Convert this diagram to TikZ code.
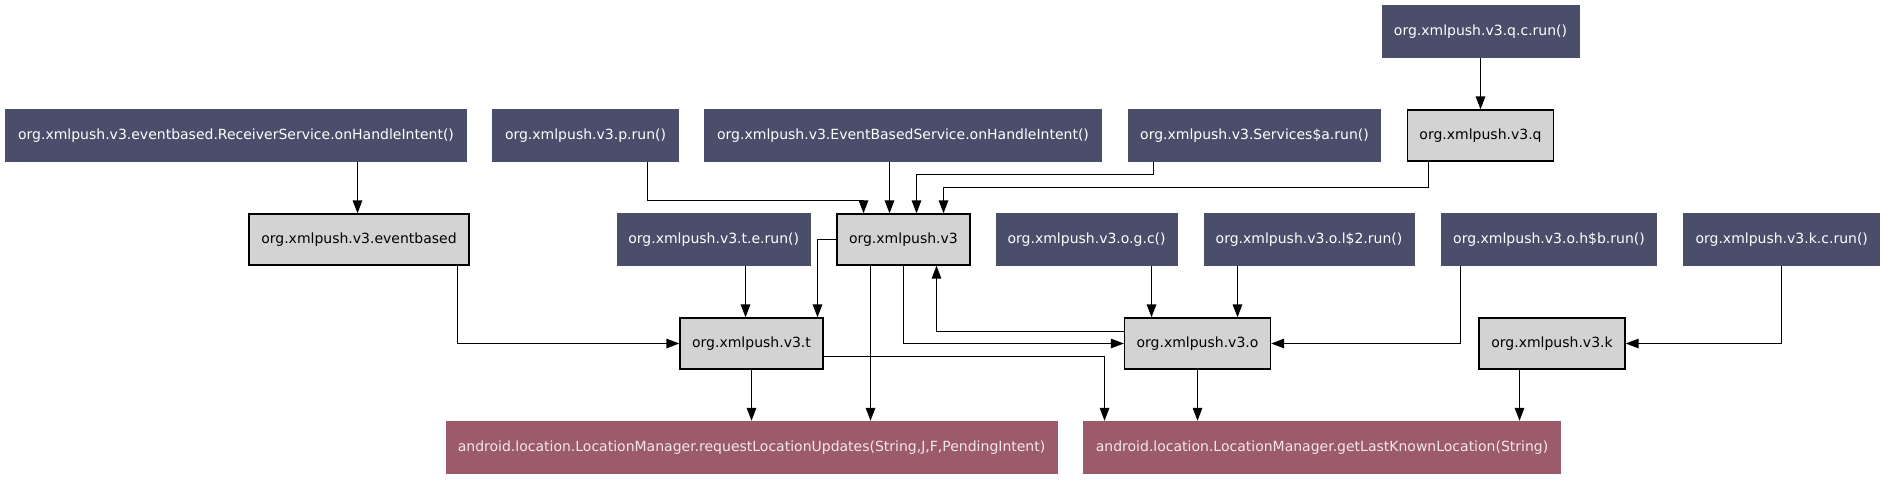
\documentclass[tikz,border=0pt]{standalone}
\usepackage{fontspec}
\setmainfont{DejaVu Sans}
\usetikzlibrary{arrows.meta}
\definecolor{callblue}{HTML}{4A4E6A}
\definecolor{apirose}{HTML}{9C5B6A}
\definecolor{pkggray}{HTML}{D3D3D3}
\definecolor{apitext}{HTML}{F6E6EA}

\begin{document}
\begin{tikzpicture}[x=1pt,y=-1pt,
        box/.style={inner sep=0pt, minimum height=53pt, font=\fontsize{14}{16}\selectfont},
        call box/.style={box, fill=callblue, text=white},
        pkg box/.style={box, fill=pkggray, draw=black, line width=1.3pt, minimum height=51pt},
        api box/.style={box, fill=apirose, text=apitext},
        link/.style={line width=1.3pt, -{Triangle[length=13pt,width=9.5pt]}}]
        \useasboundingbox (0,0) rectangle (1886,480);

        % callers
        \node[call box, minimum width=198pt] (qcrun) at (1480.5,31.5) {org.xmlpush.v3.q.c.run()};
        \node[call box, minimum width=462pt] (recv)  at (236,135.5)   {org.xmlpush.v3.eventbased.ReceiverService.onHandleIntent()};
        \node[call box, minimum width=187pt] (prun)  at (585.5,135.5) {org.xmlpush.v3.p.run()};
        \node[call box, minimum width=398pt] (ebs)   at (903,135.5)   {org.xmlpush.v3.EventBasedService.onHandleIntent()};
        \node[call box, minimum width=253pt] (srva)  at (1254.5,135.5){org.xmlpush.v3.Services\$a.run()};
        \node[call box, minimum width=194pt] (terun) at (713.7,239.5) {org.xmlpush.v3.t.e.run()};
        \node[call box, minimum width=182pt] (ogc)   at (1086.6,239.5){org.xmlpush.v3.o.g.c()};
        \node[call box, minimum width=211pt] (ol2)   at (1309,239.5)  {org.xmlpush.v3.o.l\$2.run()};
        \node[call box, minimum width=216pt] (ohb)   at (1549,239.5)  {org.xmlpush.v3.o.h\$b.run()};
        \node[call box, minimum width=197pt] (kcrun) at (1781.7,239.5){org.xmlpush.v3.k.c.run()};

        % packages
        \node[pkg box, minimum width=146pt] (q)   at (1480.5,135.5) {org.xmlpush.v3.q};
        \node[pkg box, minimum width=220pt] (evb) at (359,239.5)    {org.xmlpush.v3.eventbased};
        \node[pkg box, minimum width=133pt] (v3)  at (903.4,239.5)  {org.xmlpush.v3};
        \node[pkg box, minimum width=143pt] (t)   at (751.5,343.5)  {org.xmlpush.v3.t};
        \node[pkg box, minimum width=146pt] (o)   at (1197.5,343.5) {org.xmlpush.v3.o};
        \node[pkg box, minimum width=146pt] (k)   at (1552,343.5)   {org.xmlpush.v3.k};

        % android api
        \node[api box, minimum width=612pt] (req)  at (751.5,447.5) {android.location.LocationManager.requestLocationUpdates(String,J,F,PendingIntent)};
        \node[api box, minimum width=478pt] (last) at (1322,447.5)  {android.location.LocationManager.getLastKnownLocation(String)};

        % edges
        \draw[link] (qcrun) -- (q);
        \draw[link] (recv.south -| 357.5,0) -- (evb.north -| 357.5,0);
        \draw[link] (evb.south -| 457.5,0) |- (t.west);
        \draw[link] (prun.south -| 647.5,0) |- (863.5,200.5) -- (v3.north -| 863.5,0);
        \draw[link] (ebs.south -| 889.5,0) -- (v3.north -| 889.5,0);
        \draw[link] (srva.south -| 1153.5,0) |- (916.5,174.5) -- (v3.north -| 916.5,0);
        \draw[link] (q.south -| 1428.5,0) |- (943.5,187.5) -- (v3.north -| 943.5,0);
        \draw[link] (terun.south -| 745.5,0) -- (t.north -| 745.5,0);
        \draw[link] (v3.west) -| (t.north -| 817.5,0);
        \draw[link] (v3.south -| 870.5,0) -- (req.north -| 870.5,0);
        \draw[link] (v3.south -| 903.5,0) |- (o.west);
        \draw[link] (o.west |- 0,331.5) -| (v3.south -| 936.5,0);
        \draw[link] (t) -- (req.north -| t);
        \draw[link] (t.east |- 0,356.5) -| (last.north -| 1104.5,0);
        \draw[link] (ogc.south -| 1151.5,0) -- (o.north -| 1151.5,0);
        \draw[link] (ol2.south -| 1237.5,0) -- (o.north -| 1237.5,0);
        \draw[link] (ohb.south -| 1460.5,0) |- (o.east);
        \draw[link] (o) -- (last.north -| o);
        \draw[link] (kcrun.south -| 1781.5,0) |- (k.east);
        \draw[link] (k.south -| 1519.5,0) -- (last.north -| 1519.5,0);
\end{tikzpicture}
\end{document}
